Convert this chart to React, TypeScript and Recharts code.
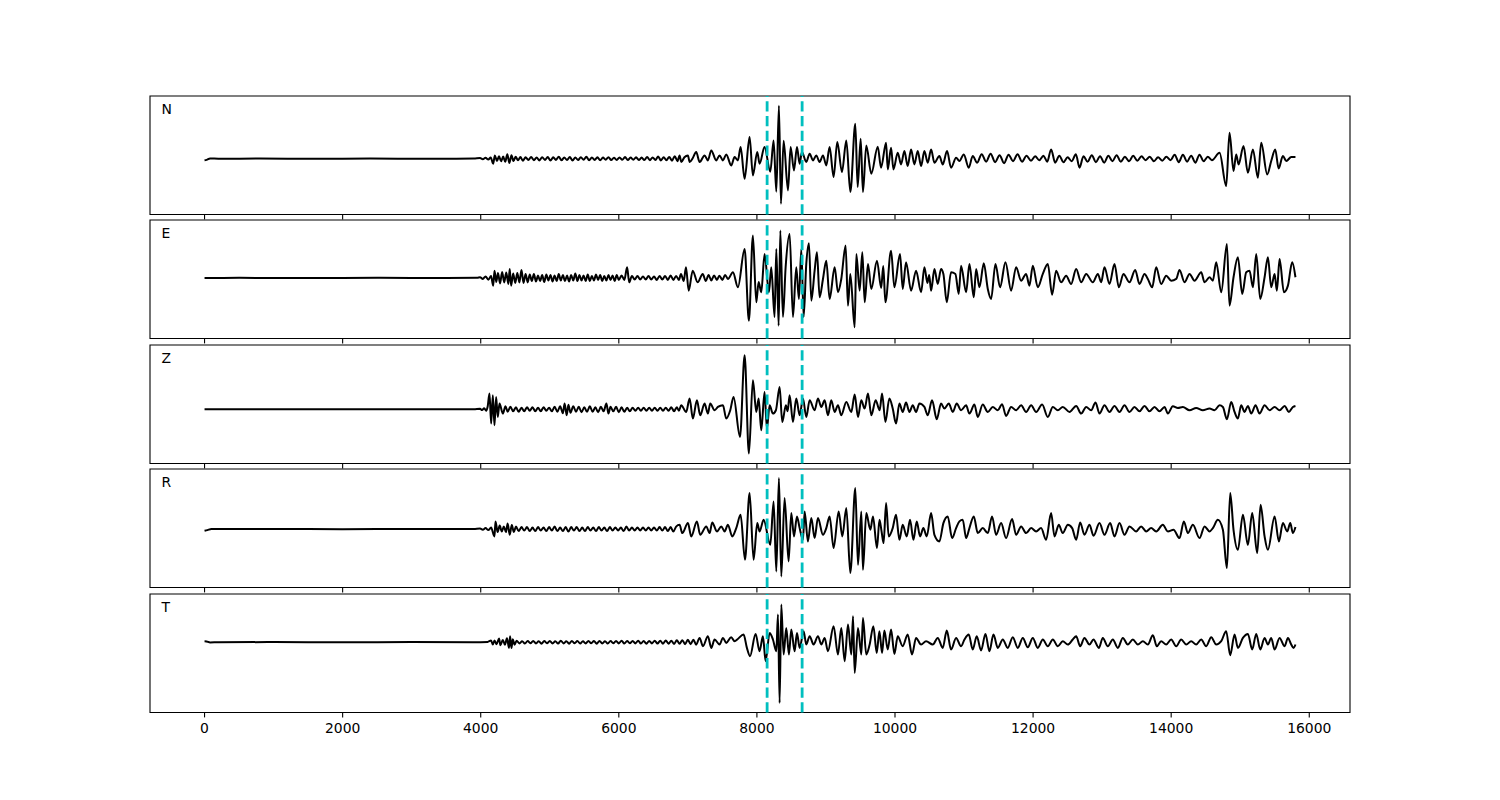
import React from 'react';
import { LineChart, Line, XAxis, YAxis, ReferenceLine, ReferenceArea } from 'recharts';

// time (samples) / amplitude pairs for each component
const TRACE_N: [number, number][] = [
  [0,-1.5],[30,-1.2],[80,0.2],[200,0],[800,0.1],[1600,-0.1],[2400,0.1],[3200,-0.1],[3900,0.1],
  [3990,0.6],[4030,-0.6],[4070,0.9],[4110,-0.8],[4145,1.2],[4180,-5],[4205,3.3],[4235,-2.2],[4265,2.4],[4295,-2.6],[4325,2.1],[4355,-3],[4385,4.5],[4415,-4.3],[4445,3.5],[4475,-2.4],[4505,2],[4540,-1.6],[4575,1.7],[4610,-2],[4650,1.4],[4690,-1.3],[4730,1.8],[4770,-1.5],[4810,1.2],[4850,-1.7],[4890,1.5],[4930,-1.2],[4970,1.6],[5010,-1.8],[5050,1.4],[5090,-1.2],[5130,2],[5170,-1.6],[5210,1.3],[5250,-1.4],[5290,1.7],[5330,-1.9],[5370,1.2],[5410,-1.3],[5450,1.5],[5490,-1.1],[5530,1.9],[5570,-1.5],[5610,1.2],[5650,-1.2],[5690,1.4],[5730,-1.6],[5770,1.1],[5810,-1],[5850,1.5],[5890,-1.3],[5930,1],[5970,-1.2],[6010,1.3],[6050,-1.1],[6090,1.6],[6130,-1.4],[6170,1.2],[6210,-1],[6250,1.4],[6290,-1.2],[6330,1.1],[6370,-1.3],[6410,1.8],[6450,-1.5],[6490,1.3],[6530,-1.2],[6570,2.2],[6610,-1.8],[6650,1.5],[6690,-1.6],[6730,1.8],[6770,-2],[6810,2.5],[6850,-2.5],
  [6880,3.3],[6904,-3.3],[6950,1.5],[7001,3.3],[7025,-3.3],[7070,0.5],[7121,6.7],[7170,-3.3],[7242,3.3],[7290,-1.7],[7339,8.3],[7411,-1.7],[7459,3.3],[7508,-1.7],[7556,4.3],[7628,-6.7],[7677,1.7],[7725,-1.7],
  [7764,11.7],[7822,-20],[7894,21.7],[7942,-16.7],[8005,6.7],[8039,-5],[8111,11.7],[8194,-13],[8242,18.3],[8281,-33],[8319,53],[8348,-45],[8387,18],[8450,-31.7],[8488,11.7],[8537,-11.7],[8580,11.7],[8619,-5],[8652,6.7],[8715,-3.3],[8764,5],[8812,-1.7],[8860,3.3],[8908,-3.3],[8957,3.3],[9005,-6.7],
  [9053,11.7],[9111,-18.3],[9164,16.7],[9232,-13.3],[9295,18.3],[9353,-33.3],[9425,35],[9459,-28.3],[9503,20],[9536,-33.3],[9584,13.3],[9657,-15],[9750,12],[9798,-9],[9871,16],[9895,-10.7],
  [9943,11],[9977,-10.7],[10040,6],[10088,-5.7],[10136,7.7],[10184,-7.3],[10233,9.3],[10281,-5.7],[10329,7.7],[10378,-7.3],[10426,7.7],[10474,-4],[10523,9.3],[10571,-4],[10643,2.7],[10692,-5.7],[10754,7.7],[10812,-9],[10885,1],[10933,-2.3],[10996,4.3],[11068,-9],[11126,2.7],
  [11190,-4],[11255,4.5],[11320,-3],[11385,5],[11450,-3.5],[11515,3.5],[11580,-4.5],[11645,4],[11710,-2.5],[11775,4.5],[11840,-3],[11905,3],[11970,-2],[12030,2.5],[12090,-1.5],[12150,3],[12205,-3],[12261,9.3],[12320,-4],[12380,3],[12440,-3.5],[12500,1.5],[12560,-2.5],[12620,4.5],[12672,-9],[12730,2.5],[12790,-3],[12850,3.5],[12910,-3.5],[12970,2.5],[13030,-4],[13090,3],[13150,-2.5],[13210,3.5],[13270,-3],[13330,2],[13390,-2.5],[13450,3],[13510,-2],[13570,2.5],[13630,-1.5],[13690,2],[13750,-2.5],[13810,1.5],[13870,-2],[13930,2],[13990,-1.5],[14050,4],[14110,-3.5],[14170,4],[14230,-3],[14290,3],[14350,-4],[14410,4],[14470,-2.5],[14530,2],[14590,-1.5],
  [14701,6],[14797,-27.3],[14845,26],[14903,-12.3],[14942,4.3],[14976,-5.7],[15048,12.7],[15111,-14],[15184,9.3],[15256,-19],[15304,16],[15391,-15.7],[15450,-2],[15507,9.3],[15556,-9.7],[15618,2.7],[15667,-2.3],[15739,1.7],[15800,1.7],
];

const TRACE_E: [number, number][] = [
  [0,0],[500,0.1],[1500,-0.1],[2500,0.1],[3500,0],[3950,0.2],
  [3990,0.8],[4030,-1],[4070,1.5],[4110,-1.8],[4150,2],[4180,-7.7],[4200,7.3],[4225,-4],[4250,5],[4280,-5.5],[4310,6],[4340,-4.5],[4370,5.5],[4400,-6],[4420,9],[4440,-7.7],[4470,4.5],[4500,-5],[4530,5],[4560,-4.5],[4590,8],[4620,-5],[4650,4],[4680,-4.5],[4710,3.5],[4740,-3],[4770,4],[4800,-3.5],[4830,2.5],[4860,-3],[4890,3],[4920,-4],[4950,3.5],[4980,-2.5],[5010,3],[5040,-3.5],[5070,2.5],[5100,-3],[5130,4],[5160,-2.5],[5190,3],[5220,-3],[5250,2.5],[5280,-3.5],[5310,3],[5340,-2.5],[5370,4.5],[5400,-3],[5430,3],[5460,-2.5],[5490,2.5],[5520,-3],[5550,3.5],[5580,-3],[5610,2],[5640,-2.5],[5670,3.5],[5700,-2],[5730,3],[5760,-3],[5790,2],[5820,-2.5],[5850,3],[5880,-2],[5910,2.5],[5940,-3],[5970,3],[6000,-2],[6040,2.5],[6080,-2],[6120,10.7],[6150,-4.3],[6190,2],[6230,-1.5],[6270,2],[6310,-1.5],[6350,1.5],[6390,-1.5],[6430,2],[6470,-1.5],[6510,1.5],[6550,-2],[6590,2],[6630,-1.5],[6670,2],[6710,-2],[6750,2.5],[6790,-2],[6830,2],
  [6870,-2],[6900,4],[6940,-3],[6973,10.7],[7012,-12.7],[7070,7.3],[7142,-4.3],[7215,4],[7260,-3],[7300,3],[7340,-2.5],[7380,2.5],[7420,-2],[7456,2.3],[7500,-2],[7540,3],[7580,-1],[7653,5.7],[7725,-9.3],
  [7822,29],[7884,-42.7],[7942,42.3],[7991,-24.3],[8025,-4],[8063,-14.3],[8111,24],[8174,-14.3],[8208,10.7],[8256,-39],[8281,29],[8315,-47.7],[8339,47.3],[8377,-39],[8416,10.7],[8474,44],[8522,-39],[8570,10.7],[8609,-21],[8643,29],[8677,-39],[8715,14],[8754,34.7],[8788,-22.7],[8836,7.3],[8870,25.7],[8908,-19.3],[8957,-1],[9005,17.3],[9053,-21],[9126,10.7],[9174,-14.3],[9222,-1],[9285,32.3],[9319,-27.7],[9353,4],[9416,-49.3],[9440,24],[9488,-12.7],[9527,25.7],[9561,-24.3],[9609,14],[9657,-11],[9739,17.3],
  [9800,-10],[9830,12],[9861,-24.3],[9943,27.3],[9991,-9.3],[10073,24],[10112,-11],[10160,15.7],[10233,-12.7],[10305,7.3],[10378,-14.3],[10426,10.7],[10470,-5],[10495,3],[10523,-12.7],[10571,9],[10619,-6],[10667,9],[10701,4],[10750,-24.3],[10812,5.7],[10875,4],[10923,-16],[10957,12.3],[11030,-14.3],[11078,14],[11141,-19.3],[11175,9],[11223,-9.3],[11286,14.7],[11344,-11],[11392,-21],[11455,14],[11522,-9.3],[11600,15.7],[11682,-12.7],[11754,10.7],[11827,-2.7],[11899,4],[11947,-7.7],[11996,12.3],[12068,-9.3],[12141,4],[12213,14],[12276,-16.7],[12334,7.3],[12406,-4.3],[12479,2.3],[12551,-6],[12624,9],[12696,-4.3],[12769,4],[12865,-4.3],[12938,4],[12986,-4.3],[13034,10.7],[13107,-6],[13179,14],[13242,-9.3],[13309,4],[13396,-4.3],[13479,8],[13541,-6],[13614,4],[13662,-1],[13725,-9.3],[13783,10.7],[13855,-6],[13928,2.3],[14000,-2.7],[14073,-1],[14121,8],[14193,-4.3],[14266,4],[14338,-2.7],[14435,5.7],[14483,-4.3],[14556,0.7],[14604,-2.7],
  [14652,15.7],[14725,-14.3],[14807,34],[14845,-27.7],[14903,0.7],[14966,20.7],[15029,-16],[15087,5.7],[15135,7.3],[15184,-9.3],[15232,24],[15290,-21],[15353,0.7],[15401,20.7],[15449,-9.3],[15498,4],[15531,-12.7],[15570,19],[15633,-14.3],[15691,-7.7],[15753,15.7],[15800,0.7],
];

const TRACE_Z: [number, number][] = [
  [0,0],[600,0.1],[1500,-0.1],[2500,0.1],[3500,-0.1],[3900,0],[3990,0.5],[4020,-0.8],[4050,1],[4080,-1.5],[4100,2.5],
  [4127,15.7],[4151,-14.3],[4175,14],[4199,-16],[4223,12.3],[4247,-7.7],[4272,5.7],[4320,-4.3],[4359,3],
  [4390,-2.5],[4430,2.5],[4470,-2],[4510,2],[4550,-2.5],[4590,1.5],[4630,-2],[4670,2],[4710,-1.5],[4750,2],[4790,-2],[4830,1.5],[4870,-2],[4910,2],[4950,-1.5],[4990,1.5],[5030,-2],[5070,2.5],[5110,-2.5],[5150,3],[5190,-4],[5215,5.7],[5245,-6],[5270,4.5],[5300,-3.5],[5340,3],[5380,-2.5],[5420,2.5],[5460,-3],[5500,2],[5540,-2.5],[5580,3],[5620,-2.5],[5660,2],[5700,-3],[5740,2.5],[5780,-2],[5820,5.7],[5850,-4.3],[5880,2.5],[5920,-2],[5960,2.5],[6000,-3],[6040,2],[6080,-2.5],[6120,1.5],[6160,-2],[6200,1.5],[6240,-1.5],[6280,1.5],[6320,-1.5],[6360,1.5],[6400,-1.5],[6440,1.5],[6480,-1.5],[6520,1.5],[6560,-1.5],[6600,1.5],[6640,-1.5],[6680,1.5],[6720,-1.5],[6760,2],[6800,-2],[6840,2],[6870,-1.5],
  [6904,4],[6976,-2.7],[7025,10.7],[7073,-9.3],[7131,9],[7179,-6],[7242,5.7],[7290,-4.3],[7324,5.7],[7387,-1],[7435,2.3],[7508,4],[7556,-9.3],[7614,-1],[7662,12.3],[7755,-27.7],
  [7822,54],[7884,-44.3],[7942,29],[7991,-2.7],[8025,10.7],[8063,-21],[8111,17.3],[8145,-19.3],[8184,4],[8232,-4.3],[8275,-1],[8329,22.3],[8367,-12.7],[8420,4],[8445,-2],[8474,14],[8522,-12.7],[8570,10.7],[8619,-6],[8667,10.7],[8715,-7.7],[8764,9],[8836,-1],[8884,10.7],[8933,2.3],[8981,9],[9029,-6],[9077,9],[9126,-2.7],[9174,4],[9222,-6],[9295,7.3],[9367,-2.7],[9416,14.7],[9464,-7.7],[9512,9],[9560,0.7],[9609,15.7],[9657,-6],[9720,9],[9778,-1],
  [9813,15.7],[9861,-12.7],[9919,10.7],[9967,0.7],[10015,-14.3],[10064,5.7],[10112,-2.7],[10160,6.7],[10209,-2.7],[10257,4],[10305,-2.7],[10354,5.7],[10426,2.3],[10474,-6],[10537,9],[10605,-10],[10667,5.7],[10716,0.7],[10779,5.7],[10837,-2.7],[10894,5.7],[10957,-1],[11030,4],[11078,-4.3],[11150,4.7],[11199,-7.7],[11271,4.7],[11344,-2.7],[11416,2.3],[11489,-1],[11551,5],[11609,-6.7],[11682,2.3],[11754,-1],[11827,4],[11899,-2.7],[11972,4],[12044,-2.7],[12131,4.7],[12213,-7.7],[12286,2.3],[12358,-1],[12430,2.3],[12527,-2.7],[12624,3.3],[12696,-4.3],[12769,2.3],[12841,-1],[12904,6.7],[12962,-4.3],[13034,4],[13107,-2.7],[13179,3.3],[13252,-2.7],[13324,4],[13396,-2.7],[13469,2.3],[13541,-2],[13614,3.3],[13686,-2],[13759,2.3],[13831,-2],[13904,2.3],[13952,-4.3],[14024,3],[14097,1.3],[14169,2.3],[14266,-1],[14362,1.3],[14459,-1],[14556,0.7],[14628,-1],[14701,4],[14749,2.3],
  [14807,-10],[14870,7.3],[14918,-2.7],[14966,-9.3],[15014,4],[15063,-2.7],[15111,3.3],[15160,-4.3],[15222,4],[15280,-4.3],[15353,4],[15425,-1],[15498,2.3],[15570,-1],[15643,3.3],[15705,-2.7],[15763,2.3],[15800,3.3],
];

const TRACE_R: [number, number][] = [
  [0,-1.7],[40,-1],[100,0.2],[300,0],[1000,0.1],[2000,-0.1],[3000,0.1],[3900,0],[3990,0.6],[4030,-0.7],[4070,1],[4110,-1],[4150,1.5],
  [4199,-7.3],[4214,7.7],[4245,-3],[4275,3.5],[4305,-2.5],[4335,2.5],[4365,-3],[4390,5.7],[4420,-5.7],[4450,4],[4480,-3],[4510,2.5],
  [4550,-2],[4590,2],[4630,-1.5],[4670,2],[4710,-2],[4750,1.5],[4790,-2],[4830,2],[4870,-1.5],[4910,1.5],[4950,-2],[4990,2],[5030,-1.5],[5070,2.5],[5110,-2],[5150,1.5],[5190,-2],[5230,2],[5270,-2.5],[5310,2],[5350,-1.5],[5390,2],[5430,-2],[5470,1.5],[5510,-2],[5550,2],[5590,-1.5],[5630,1.5],[5670,-2],[5710,2],[5750,-1.5],[5790,1.5],[5830,-2],[5870,2],[5910,-1.5],[5950,1.5],[5990,-1.5],[6030,1.5],[6070,-2],[6110,2.5],[6150,-1.5],[6190,1.5],[6230,-1.5],[6270,1.5],[6310,-1.5],[6350,1.5],[6390,-1.5],[6430,1.5],[6470,-1.5],[6510,1.5],[6550,-1.5],[6590,2],[6630,-1.5],[6670,2],[6710,-2],[6750,2],[6790,-2.5],[6830,2.5],
  [6880,4.3],[6919,-4],[7001,6],[7049,-7.3],[7131,7.7],[7179,-5.7],[7266,2.7],[7315,-4],[7353,6.7],[7421,-2.3],[7484,2.7],[7532,-2.3],[7580,4.3],[7643,-7.3],[7701,1],
  [7764,14.3],[7827,-30.7],[7894,36],[7952,-30.7],[8005,6],[8039,-2.3],[8097,9.3],[8194,-15.7],[8242,27.7],[8281,-42.3],[8319,51],[8353,-47.3],[8401,31],[8459,-32.3],[8498,16],[8537,-7.3],[8580,12.7],[8619,1],[8667,-10.7],[8691,17.7],[8739,-12.3],[8788,11],[8836,-9],[8884,11],[8957,-5.7],[9005,1],[9053,12.7],[9111,-19],[9184,17.7],[9237,-7.3],[9295,21],[9353,-44],[9425,41],[9464,-35.7],[9512,17.7],[9536,-40.7],[9584,16],[9643,-0.7],[9681,12.7],[9739,-19],
  [9775,9.3],[9805,-2],[9835,-14],[9871,26],[9909,-7.3],[9967,1],[10015,14.3],[10064,-10.7],[10112,4.3],[10170,-7.3],[10218,9.3],[10267,-10.7],[10315,7.7],[10363,-7.3],[10411,1],[10460,-7.3],[10523,16],[10571,-5.7],[10643,-12.3],[10701,6],[10764,12.7],[10827,-9],[10885,1],[10933,7.7],[10981,9.3],[11030,-9],[11078,1],[11141,12.7],[11199,-4],[11271,1],[11344,-4],[11406,12.7],[11464,-5.7],[11537,6],[11609,-9],[11696,10],[11754,-5.7],[11827,2.7],[11899,-4],[11972,1],[12044,-2.3],[12116,1],[12189,-10.7],[12261,16],[12310,-7.3],[12372,4.3],[12430,-4],[12503,4.3],[12566,1],[12624,-10.7],[12682,6.7],[12744,-5.7],[12817,4.3],[12875,-6.7],[12962,6],[13034,-5.7],[13116,6],[13179,-7.3],[13252,6],[13324,-5.7],[13396,2.7],[13493,-2.3],[13565,2.7],[13638,-2.3],[13710,1],[13783,-2.3],[13879,4.3],[13952,-2.3],[14034,-0.7],[14121,-9],[14184,7.7],[14242,-4],[14314,4.3],[14411,-9],[14483,2.7],[14556,-2.3],[14604,1],[14676,9.3],[14749,-0.7],
  [14807,-39],[14855,36],[14903,-0.7],[14966,-20.7],[15039,14.3],[15111,-15.7],[15174,16],[15246,-24],[15295,24.3],[15353,-7.3],[15401,-20.7],[15498,12.7],[15560,-12.3],[15618,6],[15681,-2.3],[15725,6],[15763,-4],[15800,2],
];

const TRACE_T: [number, number][] = [
  [0,1],[30,0.8],[80,-0.3],[200,0],[1000,0.1],[2000,-0.1],[3000,0.1],[3900,0],[4100,0.3],
  [4150,1.7],[4175,-2.3],[4200,1.7],[4230,-2],[4265,3.7],[4285,-3],[4320,2.3],[4350,-2.5],[4380,4],[4410,-5.7],[4425,6],[4445,-5.7],[4465,3],[4490,-2.5],[4520,1.5],
  [4560,-1.2],[4600,1],[4640,-1.3],[4680,1.2],[4720,-1],[4760,1.3],[4800,-1.2],[4840,1],[4880,-1.5],[4920,1.2],[4960,-1],[5000,1.3],[5040,-1.2],[5080,1],[5120,-1.3],[5160,1.5],[5200,-1.2],[5240,1],[5280,-1.5],[5320,1.3],[5360,-1],[5400,1.2],[5440,-1.3],[5480,1],[5520,-1.2],[5560,1.3],[5600,-1],[5640,1.2],[5680,-1.5],[5720,1.3],[5760,-1.2],[5800,1],[5840,-1.3],[5880,1.2],[5920,-1],[5960,1.3],[6000,-1.2],[6040,1.5],[6080,-1.3],[6120,1.2],[6160,-1],[6200,1.3],[6240,-1.2],[6280,1.5],[6320,-1.3],[6360,1.2],[6400,-1.5],[6440,1.3],[6480,-1.2],[6520,1.5],[6560,-1.3],[6600,1.5],[6640,-1.5],[6680,1.8],[6720,-1.5],[6760,1.5],[6800,-1.8],[6840,2],[6880,-1.5],[6920,2],[6960,-2],[7000,2.5],[7040,-2],[7080,2.5],[7120,-2.5],
  [7170,4.3],[7218,-4],[7290,6],[7339,-5.7],[7387,2.7],[7459,-2.3],[7508,4.3],[7556,-0.7],[7628,5],[7677,1],[7720,3],[7807,7.7],[7855,-5.7],[7900,-14],[7981,8.3],[8039,-9],[8087,6],[8126,-19],[8184,9.3],[8232,2.7],[8281,-9],[8305,27.7],[8329,-60.7],[8353,37.7],[8387,-12.3],[8425,14.3],[8464,-12.3],[8498,12.7],[8546,-9],[8580,9.3],[8619,-5.7],[8677,11],[8715,-2.3],[8764,6],[8821,-2.3],[8884,6],[8933,-2.3],[8981,4.3],[9029,-9],[9111,16],[9174,-12.3],[9222,14.3],[9271,-19],[9319,17.7],[9367,-12.3],[9392,26],[9416,-30.7],[9464,14.3],[9512,-12.3],[9536,24.3],[9584,-12.3],[9633,-2.3],
  [9687,16],[9735,-10.7],[9774,11],[9813,-10.7],[9846,11.7],[9895,-7.3],[9943,12.7],[9991,-11.7],[10040,6],[10112,-4],[10184,7.7],[10247,-12.3],[10305,4.3],[10378,-2.3],[10450,1],[10547,-2.3],[10619,4.3],[10692,-5.7],[10750,11.7],[10812,-7.3],[10885,4.3],[10957,-4],[11006,2.7],[11068,7.7],[11126,-7.3],[11184,6],[11247,-8.3],[11310,8.3],[11368,-9],[11426,7.7],[11489,-5.7],[11561,2.7],[11633,-5.7],[11706,5],[11778,-5.7],[11851,4.3],[11923,-5],[11996,4.3],[12068,-5.7],[12141,2.7],[12213,-4],[12286,2.7],[12358,-4],[12430,1],[12503,-2.3],[12575,2.7],[12624,6],[12682,-4],[12744,4.3],[12817,-2.3],[12875,2.7],[12952,-5.7],[13010,4.3],[13082,-4],[13155,2.7],[13227,-5.7],[13300,4.3],[13372,-2.3],[13445,2.7],[13517,-2.3],[13590,1],[13662,-2.3],[13735,7],[13792,-4],[13855,1],[13928,-2.3],[14000,2.7],[14073,-4],[14145,2.7],[14218,-2.3],[14290,1],[14362,-2.3],[14435,2.7],[14507,-4],[14580,5],[14652,-2.3],[14725,1],
  [14797,11],[14855,-13],[14918,7.7],[14966,-5.7],[15039,4.3],[15111,8.3],[15174,-7.3],[15232,8.3],[15290,-7.3],[15353,4.3],[15401,-2.3],[15449,4.3],[15498,-7.3],[15570,4.3],[15643,-4],[15691,4.3],[15739,-2.3],[15773,-5.7],[15800,-2.3],
];

const COMPONENT_NAMES = ['N', 'E', 'Z', 'R', 'T'];
const PICK_TIMES = [8148, 8655];
const X_TICKS = [0, 2000, 4000, 6000, 8000, 10000, 12000, 14000, 16000];

// layout / styling
const X_DOMAIN: [number, number] = [-790, 16590];
const Y_DOMAINS: [number, number][] = [
  [-55.8, 62.7],
  [-60.5, 57.9],
  [-54.2, 64.2],
  [-58.4, 60.1],
  [-70.3, 48.2],
];
const PANEL_TOPS = [96, 220.4, 344.8, 469.2, 593.5];
const PANEL_H = 118.5;
const M_TOP = 10;
const AXIS_H = 40;
const FONT = 'DejaVu Sans';

const TRACES = [TRACE_N, TRACE_E, TRACE_Z, TRACE_R, TRACE_T];

function Panel({ idx }: { idx: number }) {
  const rows = TRACES[idx].map(([t, v]) => ({ t, v }));
  const yd = Y_DOMAINS[idx];
  const name = COMPONENT_NAMES[idx];
  const isLast = idx === TRACES.length - 1;
  return (
    <div style={{ position: 'absolute', left: 0, top: PANEL_TOPS[idx] - M_TOP }}>
      <LineChart
        width={1500}
        height={M_TOP + PANEL_H + AXIS_H}
        data={rows}
        margin={{ top: M_TOP, right: 150, bottom: 0, left: 150 }}
      >
        <XAxis
          type="number"
          dataKey="t"
          domain={X_DOMAIN}
          ticks={X_TICKS}
          interval={0}
          allowDataOverflow
          height={AXIS_H}
          axisLine={false}
          tickLine={{ stroke: '#000', strokeWidth: 1.1 }}
          tickSize={4.9}
          tickMargin={6}
          tick={{ fill: '#000', fontSize: 13.9, fontFamily: FONT }}
          tickFormatter={isLast ? (v: number) => String(v) : () => ''}
        />
        <YAxis hide type="number" domain={yd} allowDataOverflow />
        <Line
          type="monotone"
          dataKey="v"
          stroke="#000"
          strokeWidth={2}
          dot={false}
          activeDot={false}
          isAnimationActive={false}
        />
        {PICK_TIMES.map((p) => (
          <ReferenceLine
            key={p}
            x={p}
            stroke="#00BFBF"
            strokeWidth={2.8}
            strokeDasharray="10.3 4.4"
            ifOverflow="visible"
          />
        ))}
        <ReferenceArea
          x1={X_DOMAIN[0]}
          x2={X_DOMAIN[1]}
          y1={yd[0]}
          y2={yd[1]}
          fill="none"
          fillOpacity={0}
          stroke="#000"
          strokeWidth={1.1}
          ifOverflow="visible"
          label={(props: any) => {
            const vb = props.viewBox || { x: 150, y: M_TOP };
            return (
              <text
                x={vb.x + 11.5}
                y={vb.y + 17.5}
                fontSize={13.9}
                fontFamily={FONT}
                fill="#000"
              >
                {name}
              </text>
            );
          }}
        />
      </LineChart>
    </div>
  );
}

export default function App() {
  return (
    <div
      style={{
        position: 'absolute',
        left: 0,
        top: 0,
        width: 1500,
        height: 800,
        background: '#fff',
        fontFamily: FONT,
      }}
    >
      {COMPONENT_NAMES.map((n, i) => (
        <Panel key={n} idx={i} />
      ))}
    </div>
  );
}
